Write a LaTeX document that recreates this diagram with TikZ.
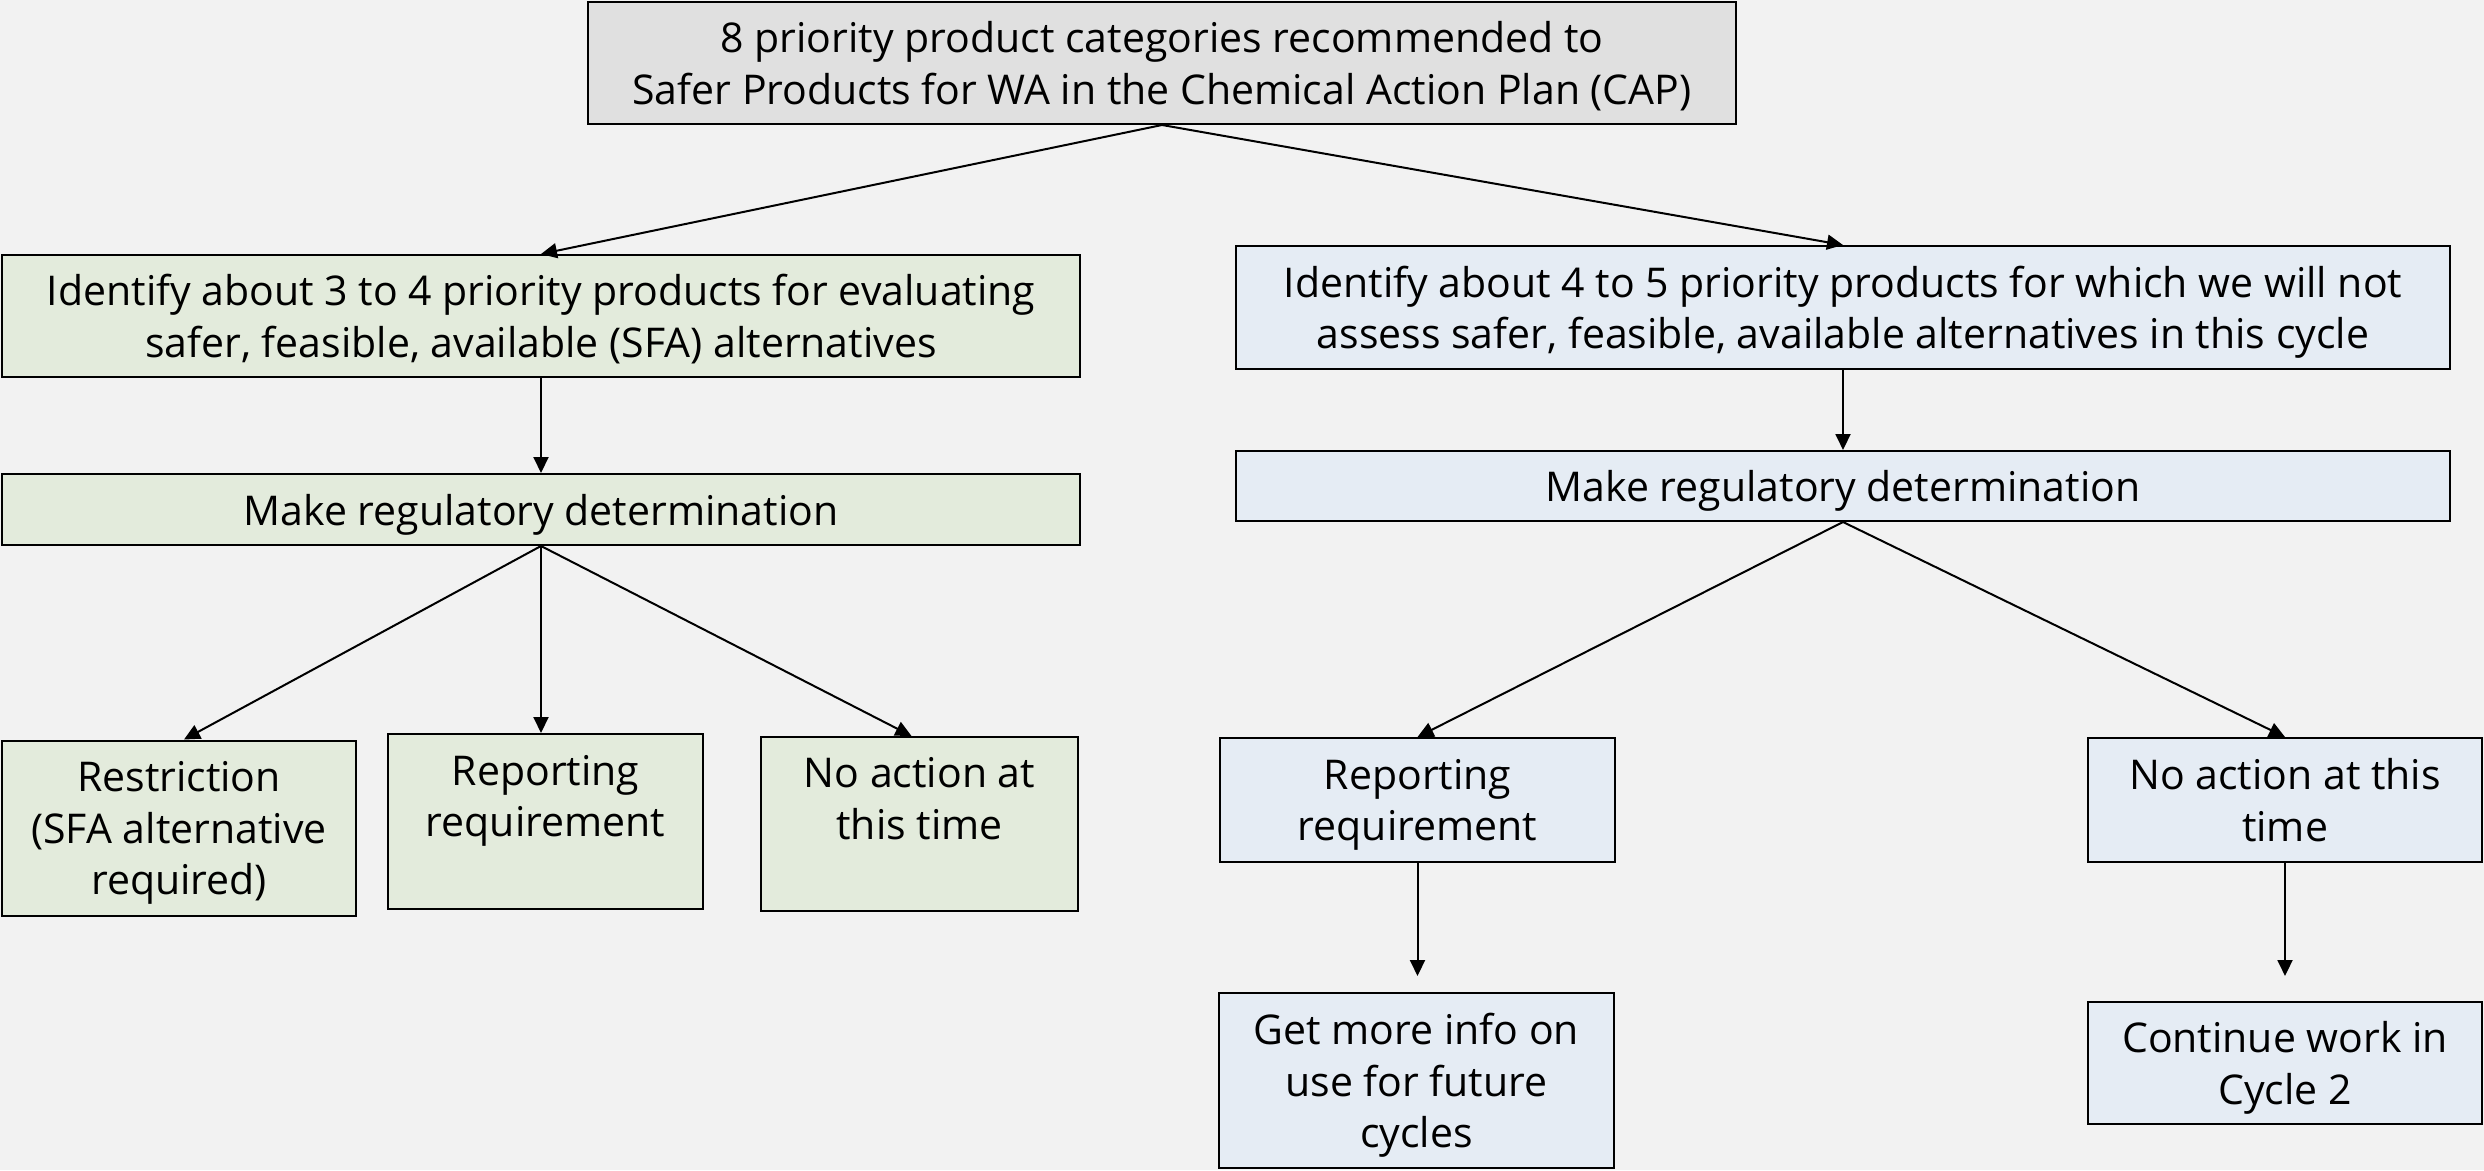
\documentclass[tikz,border=0pt]{standalone}
\usepackage{fontspec}
\setmainfont{Open Sans}
\usetikzlibrary{arrows.meta}
\definecolor{bgc}{HTML}{F2F2F2}
\definecolor{topc}{HTML}{E0E0E0}
\definecolor{grn}{HTML}{E3EBDC}
\definecolor{blu}{HTML}{E5ECF4}
\tikzset{
  box/.style={draw=black, line width=2pt, align=center, inner sep=0pt,
    text depth=0pt, font=\fontsize{41}{51.5}\selectfont},
  gbox/.style={box, fill=grn},
  bbox/.style={box, fill=blu},
  arr/.style={line width=2pt, -{Triangle[length=16pt,width=15pt]}},
}
\begin{document}
\begin{tikzpicture}[x=1pt,y=1pt]
\useasboundingbox[fill=bgc] (0,0) rectangle (2484,-1170);
\node[box, fill=topc, minimum width=1148, minimum height=122] (top) at (1162,-63)
  {8 priority product categories recommended to\\Safer Products for WA in the Chemical Action Plan (CAP)};
\node[gbox, minimum width=1078, minimum height=122] (L1) at (541,-316)
  {Identify about 3 to 4 priority products for evaluating\\safer, feasible, available (SFA) alternatives};
\node[gbox, minimum width=1078, minimum height=71] (L2) at (541,-509.5)
  {Make regulatory determination};
\node[bbox, minimum width=1214, minimum height=123] (R1) at (1843,-307.5)
  {Identify about 4 to 5 priority products for which we will not\\assess safer, feasible, available alternatives in this cycle};
\node[bbox, minimum width=1214, minimum height=70] (R2) at (1843,-486)
  {Make regulatory determination};
\node[gbox, minimum width=354, minimum height=175] (LR) at (179,-828)
  {Restriction\\(SFA alternative\\required)};
\node[gbox, minimum width=315, minimum height=175] (LP) at (545.5,-821.5)
  {Reporting\\requirement\\\strut};
\node[gbox, minimum width=317, minimum height=174] (LN) at (919.5,-824)
  {No action at\\this time\\\strut};
\node[bbox, minimum width=395, minimum height=124] (RP) at (1417.5,-800)
  {Reporting\\requirement};
\node[bbox, minimum width=394, minimum height=124] (RN) at (2285,-800)
  {No action at this\\time};
\node[bbox, minimum width=395, minimum height=175] (RG) at (1416.5,-1080.5)
  {Get more info on\\use for future\\cycles};
\node[bbox, minimum width=394, minimum height=122] (RC) at (2285,-1063)
  {Continue work in\\Cycle 2};
\coordinate (RPe) at (1417.5,-976);
\coordinate (RNe) at (2285,-976);
\draw[arr] (top.south) -- (L1.north);
\draw[arr] (top.south) -- (R1.north);
\draw[arr] (L1.south) -- (L2.north);
\draw[arr] (R1.south) -- (R2.north);
\draw[arr] (L2.south) -- ([xshift=5]LR.north);
\draw[arr] (L2.south) -- ([xshift=-4.5]LP.north);
\draw[arr] (L2.south) -- ([xshift=-8]LN.north);
\draw[arr] (R2.south) -- (RP.north);
\draw[arr] (R2.south) -- (RN.north);
\draw[arr] (RP.south) -- (RPe);
\draw[arr] (RN.south) -- (RNe);
\end{tikzpicture}
\end{document}
